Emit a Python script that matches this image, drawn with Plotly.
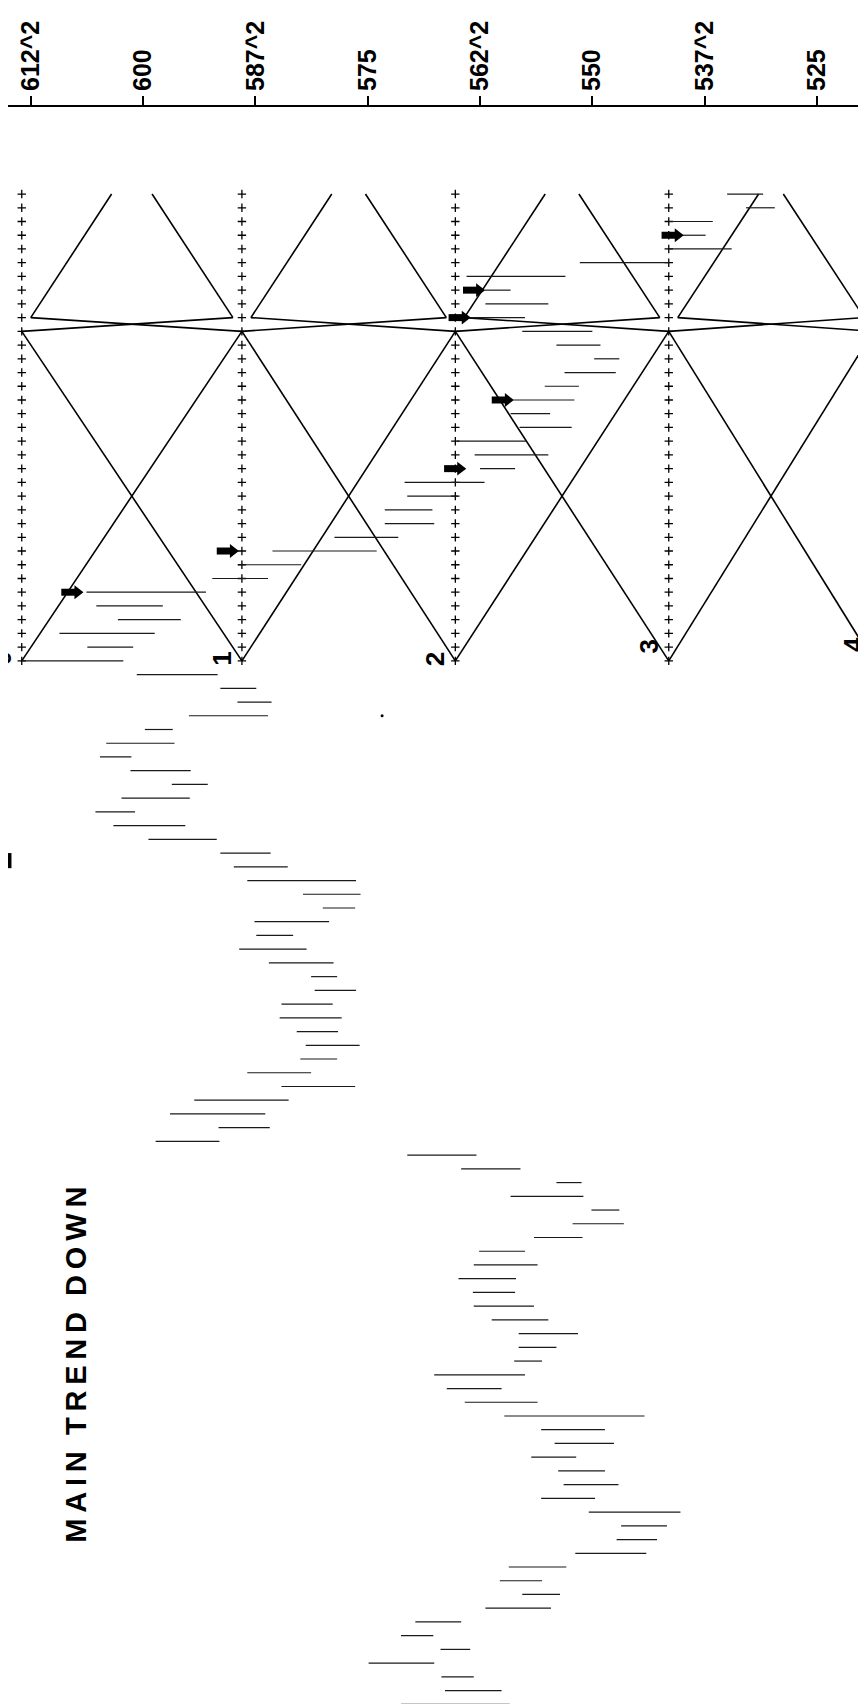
import plotly.graph_objects as go

# --- price scale (rotated chart: price runs left->right, time runs downwards) ---
tick_prices = [612.5, 600, 587.5, 575, 562.5, 550, 537.5, 525]
tick_labels = ["612^2", "600", "587^2", "575", "562^2", "550", "537^2", "525"]

# gann square columns (price) and their labels
grid_prices = [613.5, 589.0, 565.25, 541.5, 518.75]
grid_labels = ["0", "1", "2", "3", "4"]
grid_top_row = 0
apex_row = 9
square_top = 10
square_bottom = 34

# daily bars, one per row (high, low)
bar_high = [
    535.0, 532.9, 541.5, 540.0, 541.5, 551.4, 564.0, 562.0, 561.9, 563.6,
    557.8, 554.0, 549.8, 553.1, 555.3, 558.8, 559.1, 558.1, 565.1, 563.1,
    562.5, 570.9, 570.6, 573.1, 573.1, 578.7, 585.6, 589.4, 592.3, 606.3,
    605.2, 602.8, 609.3, 606.2, 613.5, 600.7, 591.4, 589.5, 594.9, 599.8,
    604.1, 604.8, 601.4, 596.8, 602.4, 605.3, 603.3, 599.4, 591.4, 589.9,
    588.4, 582.2, 580.0, 587.6, 587.4, 589.3, 586.0, 581.3, 580.9, 584.6,
    584.8, 582.9, 581.9, 582.5, 588.4, 584.6, 594.3, 597.0, 591.6, 598.6,
    570.6, 564.6, 554.0, 559.1, 550.1, 552.2, 556.5, 562.6, 563.2, 564.9,
    563.3, 563.2, 561.2, 558.2, 558.2, 558.7, 567.6, 566.2, 564.2, 559.8,
    555.7, 554.2, 556.8, 553.8, 553.2, 555.7, 550.4, 546.8, 547.3, 551.9,
    559.3, 560.3, 557.8, 561.9, 569.7, 571.3, 566.9, 574.9, 566.8, 566.4,
    571.3,
]
bar_low = [
    531.0, 529.7, 536.6, 537.4, 534.5, 541.5, 553.0, 559.1, 554.9, 557.5,
    550.0, 549.1, 547.0, 547.4, 551.5, 552.0, 554.7, 552.3, 557.4, 554.9,
    558.6, 562.0, 565.0, 567.8, 567.6, 571.6, 574.0, 582.4, 586.1, 593.0,
    597.8, 595.8, 598.7, 601.1, 602.2, 591.7, 587.4, 585.7, 586.1, 596.7,
    596.5, 601.3, 594.7, 592.8, 594.8, 600.9, 595.3, 591.8, 585.8, 583.9,
    576.3, 575.8, 576.4, 579.3, 583.3, 581.8, 578.8, 578.4, 576.3, 578.9,
    577.9, 578.3, 575.9, 578.4, 581.3, 576.4, 583.8, 586.4, 585.9, 591.5,
    562.9, 558.0, 551.2, 551.0, 547.0, 546.5, 551.1, 557.5, 556.1, 558.5,
    558.6, 556.5, 554.9, 551.6, 554.0, 555.6, 557.5, 560.1, 556.1, 544.2,
    548.6, 547.6, 551.8, 548.6, 547.1, 549.7, 540.2, 541.7, 542.8, 544.0,
    552.9, 555.6, 553.6, 554.6, 564.6, 567.7, 563.6, 567.6, 563.2, 560.1,
    559.2,
]

# signal arrows: row and the price the arrow points at
arrow_rows = [3, 7, 9, 15, 20, 26, 29]
arrow_tips = [539.9, 562.0, 563.6, 558.8, 564.1, 589.4, 606.7]

# stray specks on the scan
speck_rows = [38.0]
speck_prices = [573.4]

fig = go.Figure()

# gann angle lines (1x1: one point per bar)
lx, ly = [], []
for k in range(len(grid_prices) - 1):
    a, b = grid_prices[k], grid_prices[k + 1]
    up = apex_row - grid_top_row
    # upper wedge
    lx += [a - 1, a - 1 - up, None, b + 1, b + 1 + up, None]
    ly += [apex_row, grid_top_row, None, apex_row, grid_top_row, None]
    # thin cross between wedge and square
    lx += [a - 1, b, None, b + 1, a, None]
    ly += [apex_row, square_top, None, apex_row, square_top, None]
    # big cross of the square
    lx += [a, b, None, b, a, None]
    ly += [square_top, square_bottom, None, square_top, square_bottom, None]
fig.add_trace(go.Scatter(x=lx, y=ly, mode="lines", line=dict(color="black", width=1.6),
                         hoverinfo="skip", showlegend=False))

# dotted "+" time columns
px_, py_ = [], []
for g in grid_prices:
    for r in range(grid_top_row, square_bottom + 1):
        px_.append(g)
        py_.append(r)
fig.add_trace(go.Scatter(x=px_, y=py_, mode="markers",
                         marker=dict(symbol="cross-thin", size=6, line=dict(color="black", width=1.3)),
                         hoverinfo="skip", showlegend=False))

# price bars
bx, by = [], []
for i, (h, l) in enumerate(zip(bar_high, bar_low)):
    bx += [h, l, None]
    by += [i, i, None]
fig.add_trace(go.Scatter(x=bx, y=by, mode="lines", line=dict(color="#1a1a1a", width=1.2),
                         hoverinfo="skip", showlegend=False))

# arrows: thick shaft + triangle head
sx, sy = [], []
for r, t in zip(arrow_rows, arrow_tips):
    sx += [t + 2.4, t + 0.6, None]
    sy += [r, r, None]
fig.add_trace(go.Scatter(x=sx, y=sy, mode="lines", line=dict(color="black", width=7),
                         hoverinfo="skip", showlegend=False))
fig.add_trace(go.Scatter(x=[t + 0.6 for t in arrow_tips], y=arrow_rows, mode="markers",
                         marker=dict(symbol="triangle-right", size=12, color="black", line=dict(width=0)),
                         hoverinfo="skip", showlegend=False))

fig.add_trace(go.Scatter(x=speck_prices, y=speck_rows, mode="markers",
                         marker=dict(size=3, color="black"), hoverinfo="skip", showlegend=False))

# square numbers (the scan sits a little higher on the right)
label_lift = [2, 2, 2, 14, 16]
for g, lab, lift in zip(grid_prices, grid_labels, label_lift):
    fig.add_annotation(x=g, y=square_bottom, text=f"<b>{lab}</b>", showarrow=False,
                       textangle=-90, xshift=-20, yshift=lift,
                       font=dict(family="Liberation Sans, Arial", size=26, color="black"))

fig.add_annotation(x=607.4, y=85.3, text="<b>M\u2009A\u2009I\u2009N  T\u2009R\u2009E\u2009N\u2009D  D\u2009O\u2009W\u2009N</b>",
                   showarrow=False, textangle=-90,
                   font=dict(family="Liberation Sans, Arial", size=29, color="black"))

# small black mark on the left edge
fig.add_shape(type="rect", xref="paper", yref="y", x0=0, x1=0.004, y0=48.0, y1=49.1,
              fillcolor="black", line=dict(width=0))

fig.update_layout(
    width=866, height=1704,
    margin=dict(l=0, r=0, t=99, b=0, pad=0),
    paper_bgcolor="white", plot_bgcolor="white",
    showlegend=False,
    xaxis=dict(
        range=[615.03, 518.66], side="top", automargin=False,
        showline=True, linecolor="black", linewidth=2,
        ticks="outside", ticklen=9, tickwidth=1.5, tickcolor="black",
        tickvals=tick_prices, ticktext=[f"<b>{t}</b>" for t in tick_labels],
        tickangle=-90, tickfont=dict(family="Liberation Sans, Arial", size=25, color="black"),
        showgrid=False, zeroline=False,
    ),
    yaxis=dict(range=[110.56, -6.34], visible=False, showgrid=False, zeroline=False,
               automargin=False),
)

fig.write_html("out.html")
